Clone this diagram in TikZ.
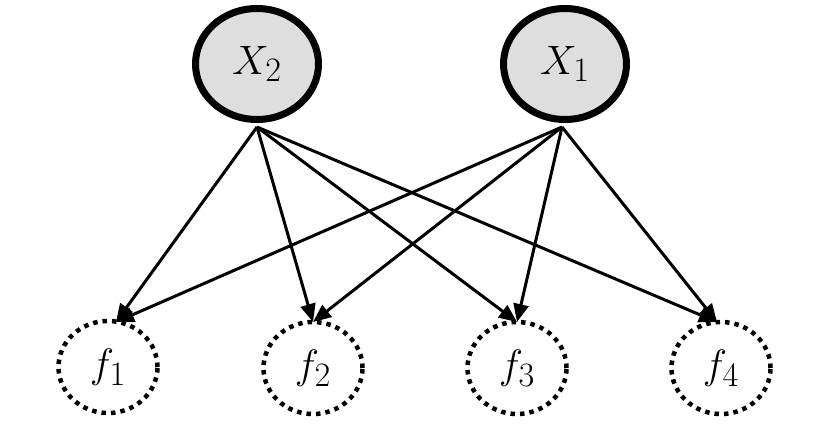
\documentclass[tikz,border=0pt]{standalone}
\usepackage{graphicx}
\usetikzlibrary{arrows.meta,shapes.geometric}
\newcommand{\bigtxt}[1]{\scalebox{1.65}{\Huge #1}}
\tikzset{
  var/.style={ellipse, draw=black, fill=black!13, line width=7pt, minimum width=123pt, minimum height=111pt, inner sep=0pt},
  fac/.style={ellipse, draw=black, line width=4.5pt, dash pattern=on 4.5pt off 5pt, minimum width=99pt, minimum height=92pt, inner sep=0pt},
  edge/.style={line width=3pt, -{Triangle[length=18pt,width=15pt]}}
}
\begin{document}
\begin{tikzpicture}[x=1pt,y=-1pt]
\useasboundingbox (0,0) rectangle (830,426);
\node[var] (X2) at (257,64) {\bigtxt{$X_2$}};
\node[var] (X1) at (565,64) {\bigtxt{$X_1$}};
\node[fac] (f1) at (108,367) {\bigtxt{$f_1$}};
\node[fac] (f2) at (313,368) {\bigtxt{$f_2$}};
\node[fac] (f3) at (517,368) {\bigtxt{$f_3$}};
\node[fac] (f4) at (721,368) {\bigtxt{$f_4$}};
\coordinate (s2) at (257,127);
\coordinate (s1) at (562,127);
\coordinate (t1) at (116,322);
\coordinate (t2) at (313,322);
\coordinate (t3) at (517,322);
\coordinate (t4) at (717,322);
\foreach \t in {t1,t2,t3,t4} {
  \draw[edge] (s2) -- (\t);
  \draw[edge] (s1) -- (\t);
}
\end{tikzpicture}
\end{document}
